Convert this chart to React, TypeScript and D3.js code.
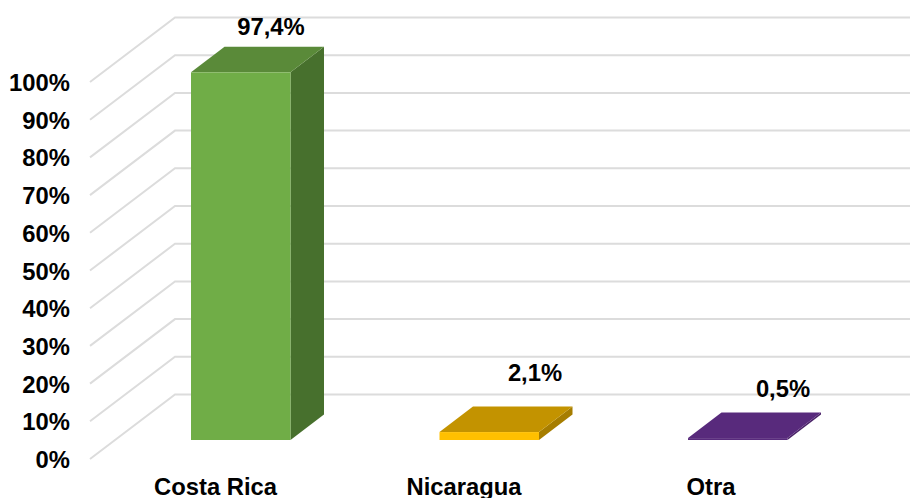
import React from "react";
import * as d3 from "d3";

const categories = ["Costa Rica", "Nicaragua", "Otra"];
const values = [97.4, 2.1, 0.5];
const valueLabels = ["97,4%", "2,1%", "0,5%"];
const ticks = [0, 10, 20, 30, 40, 50, 60, 70, 80, 90, 100];
const frontColors = ["#70AD47", "#FFC000", "#582A7C"];
const topColors = ["#5A8A39", "#C39300", "#582A7C"];
const sideColors = ["#47702D", "#A67D00", "#4A2268"];

const W = 910, H = 498;
const FONT = "'Liberation Sans', Arial, sans-serif";

export default function App() {
  const y = d3.scaleLinear().domain([0, 100]).range([459, 82]);
  const barY = d3.scaleLinear().domain([0, 100]).range([440, 62.5]);
  const xStarts = d3.scalePoint<string>().domain(categories).range([191, 688]);
  const barW = 99.5, bdx = 33.5, bdy = 25.5;
  const wallDx = 85, wallDy = 64.5;
  const labelPos = [[271, 35], [535, 381], [783, 397]];
  const catX = [215.5, 464, 711];
  return (
    <svg width={W} height={H} style={{ position: "absolute", left: 0, top: 0, background: "#fff" }}>
      {ticks.map((t) => (
        <polyline key={t} fill="none" stroke="#DCDCDC" strokeWidth={2}
          points={`90,${y(t)} ${90 + wallDx},${y(t) - wallDy} 910,${y(t) - wallDy}`} />
      ))}
      {ticks.map((t) => (
        <text key={t} x={70} y={y(t) + 9} textAnchor="end" fontFamily={FONT} fontWeight="bold" fontSize={23.8} fill="#000">{t}%</text>
      ))}
      {categories.map((c, i) => {
        const x0 = xStarts(c)!;
        const x1 = x0 + barW;
        const b = barY(0), t = barY(values[i]);
        return (
          <g key={c}>
            <polygon fill={sideColors[i]} points={`${x1},${b} ${x1 + bdx},${b - bdy} ${x1 + bdx},${t - bdy} ${x1},${t}`} />
            <polygon fill={topColors[i]} points={`${x0},${t} ${x0 + bdx},${t - bdy} ${x1 + bdx},${t - bdy} ${x1},${t}`} />
            <rect fill={frontColors[i]} x={x0} y={t} width={barW} height={b - t} />
            <text x={labelPos[i][0]} y={labelPos[i][1]} textAnchor="middle" fontFamily={FONT} fontWeight="bold" fontSize={23.8} fill="#000">{valueLabels[i]}</text>
            <text x={catX[i]} y={495} textAnchor="middle" fontFamily={FONT} fontWeight="bold" fontSize={23.8} fill="#000">{c}</text>
          </g>
        );
      })}
    </svg>
  );
}
